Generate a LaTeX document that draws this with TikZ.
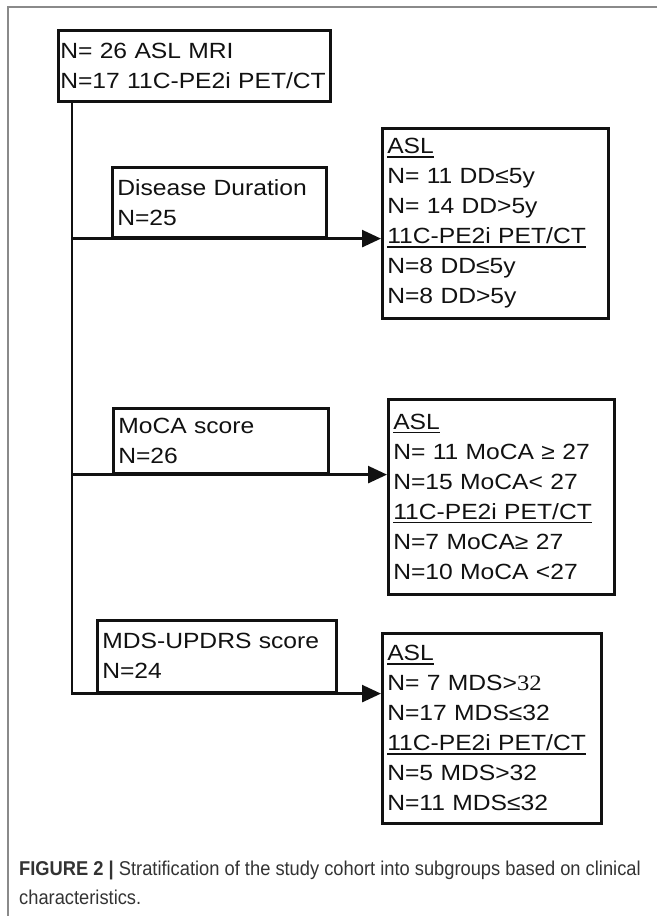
\documentclass[tikz,border=0pt]{standalone}
\usepackage{fontspec}
\setmainfont{Liberation Sans}
\newfontfamily\boxfont[FakeStretch=1.12]{Liberation Sans}
\newfontfamily\numfont[FakeStretch=1.12]{Liberation Serif}
\newfontfamily\capfont[FakeStretch=0.915]{Liberation Sans}
\usetikzlibrary{arrows.meta,positioning}
\definecolor{ink}{HTML}{111111}
\definecolor{rim}{HTML}{8A8A8A}
\definecolor{captxt}{HTML}{333333}
\newcommand\ulab[1]{\leavevmode\setbox0\hbox{#1}\rlap{\rule[-4pt]{\wd0}{1.8pt}}\box0}
\tikzset{
  panel/.style={draw=ink,line width=2.6pt,anchor=north west,align=left,inner xsep=5pt,inner ysep=0pt,text=ink,font=\boxfont\fontsize{22}{30}\selectfont},
  arm/.style={draw=ink,line width=2.6pt},
  feed/.style={arm,-{Triangle[length=19pt,width=17pt]}},
  rimline/.style={draw=rim,line width=1.5pt},
  capnote/.style={anchor=north west,align=left,inner sep=0pt,text=captxt,font=\capfont\fontsize{20}{29}\selectfont}
}

\begin{document}
\begin{tikzpicture}[x=1pt,y=-1pt]
  \useasboundingbox (0,0) rectangle (657,916);
  \draw[rimline] (657,7) -- (8,7) -- (8,916);

  \node[panel, inner xsep=2pt, text width=268pt, minimum height=71pt] (root) at (57,29) {N= 26 ASL MRI\\N=17 11C-PE2i PET/CT};

  \node[panel, text width=204pt, minimum height=70pt] (dd) at (111,166) {Disease Duration\\N=25};
  \node[panel, text width=216pt, minimum height=190pt] (ddres) at (381,127) {\ulab{ASL}\\N= 11 DD≤5y\\N= 14 DD>5y\\\ulab{11C-PE2i PET/CT}\\N=8 DD≤5y\\N=8 DD>5y};

  \node[panel, text width=205pt, minimum height=65pt] (moca) at (112,407) {MoCA score\\N=26};
  \node[panel, text width=216pt, minimum height=195pt] (mocares) at (387,398) {\ulab{ASL}\\N= 11 MoCA ≥ 27\\N=15 MoCA< 27\\\ulab{11C-PE2i PET/CT}\\N=7 MoCA≥ 27\\N=10 MoCA <27};

  \node[panel, text width=229pt, minimum height=72pt] (mds) at (96,619) {MDS-UPDRS score\\N=24};
  \node[panel, text width=209pt, minimum height=190pt] (mdsres) at (381,632) {\ulab{ASL}\\N= 7 MDS>{\numfont 32}\\N=17 MDS≤32\\\ulab{11C-PE2i PET/CT}\\N=5 MDS>32\\N=11 MDS≤32};

  \coordinate (t0) at ([xshift=15pt]root.south west);
  \draw[feed] (t0 |- dd.south) -- (ddres.west |- dd.south);
  \draw[feed] (t0 |- moca.south) -- (mocares.west |- moca.south);
  \draw[feed] (t0) |- (mdsres.west |- mds.south);

  \node[capnote] (caption) at (19,861) {\textbf{FIGURE 2 |} Stratification of the study cohort into subgroups based on clinical\\characteristics.};
\end{tikzpicture}
\end{document}
